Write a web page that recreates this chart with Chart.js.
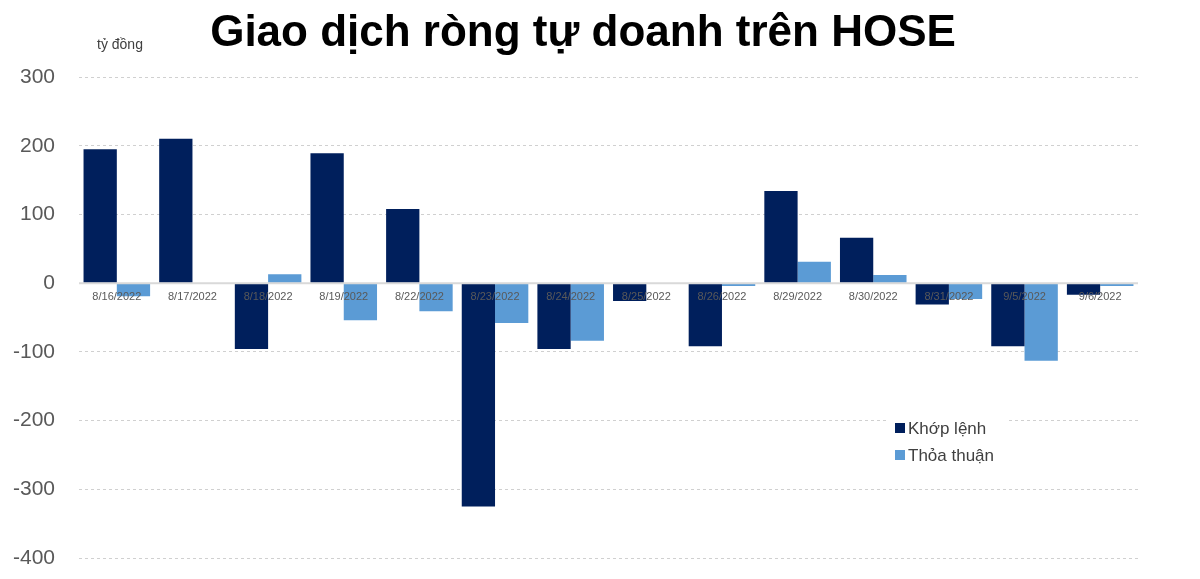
<!DOCTYPE html>
<html>
<head>
<meta charset="utf-8">
<script src="https://cdn.jsdelivr.net/npm/chart.js@4"></script>
<style>
  html, body { margin: 0; padding: 0; background: #fff; overflow: hidden; }
  canvas { display: block; }
</style>
</head>
<body>
<canvas id="hose" width="1200" height="579"></canvas>
<script>
const dates = ['8/16/2022', '8/17/2022', '8/18/2022', '8/19/2022', '8/22/2022', '8/23/2022', '8/24/2022',
  '8/25/2022', '8/26/2022', '8/29/2022', '8/30/2022', '8/31/2022', '9/5/2022', '9/6/2022'];
const khopLenh = [195, 210, -96, 189, 108, -325, -96, -26, -92, 134, 66, -31, -92, -17];
const thoaThuan = [-19, 0, 13, -54, -41, -58, -84, 0, -4, 31, 12, -23, -113, -4];

// date labels sit just under the zero line, on top of the bars
const dateLabels = {
  id: 'dateLabels',
  afterDatasetsDraw(chart) {
    const c = chart.ctx, x = chart.scales.x, y = chart.scales.y;
    const y0 = y.getPixelForValue(0);
    c.save();
    c.strokeStyle = '#d9d9d9';
    c.lineWidth = 2;
    c.beginPath();
    c.moveTo(chart.chartArea.left, y0);
    c.lineTo(chart.chartArea.right, y0);
    c.stroke();
    c.fillStyle = '#595959';
    c.font = '11px "Liberation Sans", Arial, sans-serif';
    c.textAlign = 'center';
    c.textBaseline = 'middle';
    chart.data.labels.forEach((lab, i) => c.fillText(lab, x.getPixelForValue(i), y0 + 14));
    c.restore();
  }
};

// title, unit and the legend box inside the plot
const extras = {
  id: 'extras',
  afterDraw(chart) {
    const c = chart.ctx;
    c.save();
    c.fillStyle = '#000';
    c.font = 'bold 44px "Liberation Sans", Arial, sans-serif';
    c.textAlign = 'center';
    c.textBaseline = 'middle';
    c.fillText('Giao dịch ròng tự doanh trên HOSE', 583, 34);
    c.fillStyle = '#404040';
    c.font = '14px "Liberation Sans", Arial, sans-serif';
    c.textAlign = 'left';
    c.fillText('tỷ đồng', 97, 45);

    c.fillStyle = '#fff';
    c.fillRect(888, 412, 120, 56);
    c.font = '17px "Liberation Sans", Arial, sans-serif';
    chart.data.datasets.forEach((ds, i) => {
      const y = 428 + i * 27;
      c.fillStyle = ds.backgroundColor;
      c.fillRect(895, y - 5, 10, 10);
      c.fillStyle = '#404040';
      c.fillText(ds.label, 908, y + 1);
    });
    c.restore();
  }
};

new Chart(document.getElementById('hose'), {
  type: 'bar',
  data: {
    labels: dates,
    datasets: [{
      label: 'Khớp lệnh',
      data: khopLenh,
      backgroundColor: '#001F5C',
      borderWidth: 0
    }, {
      label: 'Thỏa thuận',
      data: thoaThuan,
      backgroundColor: '#5B9BD5',
      borderWidth: 0
    }]
  },
  options: {
    responsive: false,
    animation: false,
    layout: { padding: { top: 77, right: 62, bottom: 21, left: 8 } },
    plugins: {
      legend: { display: false },
      title: { display: false },
      tooltip: { enabled: false }
    },
    datasets: { bar: { categoryPercentage: 0.88, barPercentage: 1 } },
    scales: {
      x: {
        display: false
      },
      y: {
        min: -400,
        max: 300,
        // tick padding would otherwise also pad the plot top/bottom
        afterFit(scale) {
          scale.width = 71;
          scale.paddingTop = 12;
          scale.paddingBottom = 12;
        },
        ticks: {
          stepSize: 100,
          color: '#595959',
          padding: 24,
          font: { family: '"Liberation Sans", Arial, sans-serif', size: 21 }
        },
        grid: { color: '#d0d0d0', drawTicks: false, lineWidth: 1 },
        border: { display: false, dash: [3, 3] }
      }
    }
  },
  plugins: [dateLabels, extras]
});
</script>
</body>
</html>
